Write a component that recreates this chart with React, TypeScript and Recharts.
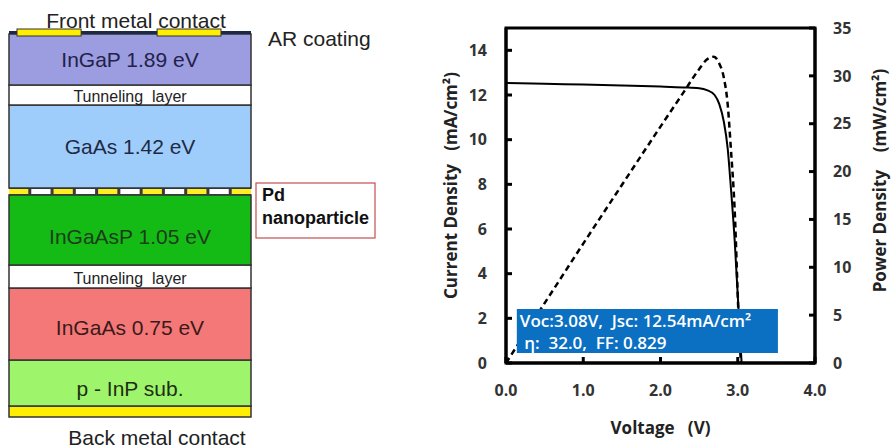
import React from 'react';
import { BarChart, Bar, XAxis, YAxis, ComposedChart, Line, ReferenceArea } from 'recharts';

// ---------- Layer stack (top to bottom) ----------
const layerKeys = ['ar', 'ingap', 'tun1', 'gaas', 'pd', 'ingaasp', 'tun2', 'ingaas', 'inp', 'back'];
const layerLabels = ['', 'InGaP 1.89 eV', 'Tunneling  layer', 'GaAs 1.42 eV', '', 'InGaAsP 1.05 eV', 'Tunneling  layer', 'InGaAs 0.75 eV', 'p - InP sub.', ''];
const layerThickness = [3, 51, 20, 83, 7, 70, 23, 72, 46, 11];

// ---------- J-V data ----------
const jvVoltage = [0, 0.5, 1.0, 1.5, 2.0, 2.3, 2.5, 2.6, 2.7, 2.76, 2.82, 2.87, 2.91, 2.96, 3.01, 3.05];
const jvCurrent = [12.54, 12.5, 12.47, 12.43, 12.38, 12.34, 12.3, 12.22, 12.0, 11.6, 10.8, 9.6, 7.9, 5.5, 2.4, 0];
const pvVoltage = [0, 0.5, 1.0, 1.5, 2.0, 2.3, 2.5, 2.6, 2.69, 2.76, 2.82, 2.87, 2.91, 2.96, 3.01, 3.04];
const pvPower = [0, 6.25, 12.47, 18.6, 24.7, 28.3, 30.7, 31.7, 32.0, 31.3, 29.8, 27.0, 22.5, 16.0, 5.0, 0];

const xTicks = [0, 1, 2, 3, 4];
const leftTicks = [0, 2, 4, 6, 8, 10, 12, 14];
const rightTicks = [0, 5, 10, 15, 20, 25, 30, 35];

const NB = '\u00a0';
const statsLine1 = `Voc:3.08V,${NB}${NB}Jsc:${NB}12.54mA/cm²`;
const statsLine2 = `${NB}η:${NB}${NB}32.0,${NB}${NB}FF:${NB}0.829`;
const leftAxisTitle = `Current${NB}Density${NB}${NB}${NB}(mA/cm²)`;
const rightAxisTitle = `Power${NB}Density${NB}${NB}${NB}${NB}(mW/cm²)`;
const xAxisTitle = `Voltage${NB}${NB}${NB}(V)`;

// ---------- built tables ----------
const stackRow: any = { name: 'cell' };
layerKeys.forEach((k, i) => { stackRow[k] = layerThickness[i]; });
const stackData = [stackRow];
const stackTotal = layerThickness.reduce((a, b) => a + b, 0);
const jvData = jvVoltage.map((v, i) => ({ v, j: jvCurrent[i] }));
const pvData = pvVoltage.map((v, i) => ({ v, p: pvPower[i] }));

// ---------- styles ----------
const diagFont = '"Liberation Sans", Arial, sans-serif';
const chartFont = '"Open Sans", Lato, sans-serif';
const layerStyle: Record<string, any> = {
  ar: { fill: '#1c2945' },
  ingap: { fill: '#9c9ce0', color: '#22224a', fs: 21, dy: 0 },
  tun1: { fill: '#ffffff', color: '#222', fs: 16, dy: 1 },
  gaas: { fill: '#9fcdfb', color: '#1e2a44', fs: 21, dy: 0 },
  pd: { fill: '#ffee22' },
  ingaasp: { fill: '#14bb14', color: '#1c3d1c', fs: 21, dy: 6 },
  tun2: { fill: '#ffffff', color: '#222', fs: 16, dy: 2 },
  ingaas: { fill: '#f57878', color: '#3a1a1a', fs: 21, dy: 3 },
  inp: { fill: '#9ef56b', color: '#1e2e14', fs: 21, dy: 5 },
  back: { fill: '#ffee00' },
};
const contactSpans = [[0.033, 0.298], [0.612, 0.876]];
const pdSegments = 11;

const makeLayerShape = (key: string, label: string) => (p: any) => {
  const st = layerStyle[key];
  const x = p.x, w = p.width;
  const y = Math.min(p.y, p.y + p.height), h = Math.abs(p.height);
  if (key === 'ar') {
    return (
      <g>
        <rect x={x} y={y} width={w} height={h} fill={st.fill} />
        {contactSpans.map(([a, b], i) => (
          <rect key={i} x={x + a * w} y={y - 2} width={(b - a) * w} height={h + 4} fill="#ffee00" stroke="#333" strokeWidth={1} />
        ))}
      </g>
    );
  }
  if (key === 'pd') {
    const gap = 3;
    const sw = (w - gap * (pdSegments - 1)) / pdSegments;
    return (
      <g>
        <rect x={x} y={y} width={w} height={h} fill="#3a3a3a" />
        {Array.from({ length: pdSegments }).map((_, i) => (
          <rect key={i} x={x + i * (sw + gap)} y={y + 1} width={sw} height={h - 2} fill={i % 2 === 0 ? '#ffee22' : '#ffffff'} />
        ))}
      </g>
    );
  }
  return (
    <g>
      <rect x={x} y={y} width={w} height={h} fill={st.fill} stroke="#333" strokeWidth={1.5} />
      {label ? (
        <text x={x + w / 2} y={y + h / 2 + (st.dy || 0)} textAnchor="middle" dominantBaseline="central"
          fontFamily={diagFont} fontSize={st.fs} fill={st.color} style={{ whiteSpace: 'pre' }}>{label}</text>
      ) : null}
    </g>
  );
};

const tickStyle = { fill: '#333', fontSize: 16, fontWeight: 700, fontFamily: chartFont };
const axisLineStyle = { stroke: '#000', strokeWidth: 3 };

const vLabel = (text: string, dx: number, dy: number) => (p: any) => {
  const vb = p.viewBox || p;
  const cx = vb.x + dx;
  const cy = vb.y + vb.height / 2 + dy;
  return (
    <text x={cx} y={cy} transform={`rotate(-90 ${cx} ${cy})`} textAnchor="middle" dominantBaseline="central"
      fontFamily={chartFont} fontWeight={700} fontSize={17} fill="#222">{text}</text>
  );
};

const xLabel = (p: any) => {
  const vb = p.viewBox || p;
  return (
    <text x={vb.x + vb.width / 2} y={vb.y + 64} textAnchor="middle" dominantBaseline="central"
      fontFamily={chartFont} fontWeight={700} fontSize={17} fill="#222">{xAxisTitle}</text>
  );
};

const statsLabel = (p: any) => {
  const vb = p.viewBox || p;
  const x = Math.min(vb.x, vb.x + vb.width);
  const y = Math.min(vb.y, vb.y + vb.height);
  return (
    <g fontFamily={chartFont} fontWeight={600} fontSize={17} fill="#ffffff">
      <text x={x + 3} y={y + 12} dominantBaseline="central">{statsLine1}</text>
      <text x={x + 3} y={y + 34} dominantBaseline="central">{statsLine2}</text>
    </g>
  );
};

export default function App() {
  const stackOrder = layerKeys.map((k, i) => ({ k, label: layerLabels[i] })).reverse();
  return (
    <div style={{ position: 'absolute', left: 0, top: 0, width: 891, height: 448, background: '#fff', overflow: 'hidden' }}>
      <div style={{ position: 'absolute', left: 0, top: 0 }}>
        <BarChart width={260} height={448} data={stackData} margin={{ top: 31, right: 9, bottom: 31, left: 9 }}
          barCategoryGap={0} barGap={0}>
          <XAxis dataKey="name" hide />
          <YAxis hide domain={[0, stackTotal]} type="number" />
          {stackOrder.map(({ k, label }) => (
            <Bar key={k} dataKey={k} stackId="s" isAnimationActive={false} shape={makeLayerShape(k, label)} />
          ))}
        </BarChart>
      </div>

      <svg width={891} height={448} style={{ position: 'absolute', left: 0, top: 0, pointerEvents: 'none' }}>
        <g fontFamily={diagFont} fill="#222" fontSize={21}>
          <text x={136} y={20} textAnchor="middle" dominantBaseline="central">Front metal contact</text>
          <text x={268} y={38} dominantBaseline="central">AR coating</text>
          <text x={157} y={437} textAnchor="middle" dominantBaseline="central">Back metal contact</text>
        </g>
        <rect x={256} y={183} width={119} height={55} fill="#fff" stroke="#c0504d" strokeWidth={1.2} />
        <g fontFamily={diagFont} fontWeight={700} fontSize={18} fill="#111">
          <text x={262} y={195} dominantBaseline="central">Pd</text>
          <text x={262} y={218} dominantBaseline="central">nanoparticle</text>
        </g>
      </svg>

      <div style={{ position: 'absolute', left: 420, top: 0 }}>
        <ComposedChart width={471} height={448} margin={{ top: 28, right: 0, bottom: 0, left: 0 }}>
          <XAxis type="number" dataKey="v" domain={[0, 4]} ticks={xTicks} allowDataOverflow
            tickFormatter={(v: number) => v.toFixed(1)} height={85} tickSize={-6} tickMargin={28}
            axisLine={axisLineStyle} tickLine={axisLineStyle} tick={tickStyle} label={xLabel} />
          <YAxis yAxisId="j" type="number" domain={[0, 15]} ticks={leftTicks} width={86} tickSize={-6} tickMargin={25}
            axisLine={axisLineStyle} tickLine={axisLineStyle} tick={tickStyle}
            label={vLabel(leftAxisTitle, 30, -10)} />
          <YAxis yAxisId="p" orientation="right" type="number" domain={[0, 35]} ticks={rightTicks} width={76} tickSize={-6} tickMargin={24}
            axisLine={axisLineStyle} tickLine={axisLineStyle} tick={tickStyle}
            label={vLabel(rightAxisTitle, 64, -15)} />
          <Line yAxisId="j" data={jvData} dataKey="j" type="monotone" stroke="#000" strokeWidth={2} dot={false} isAnimationActive={false} />
          <Line yAxisId="p" data={pvData} dataKey="p" type="monotone" stroke="#000" strokeWidth={2.5} strokeDasharray="6 4" dot={false} isAnimationActive={false} />
          <ReferenceArea yAxisId="j" x1={0} x2={4} y1={0} y2={15} fill="none" stroke="#000" strokeWidth={3} />
          <ReferenceArea yAxisId="j" x1={0.14} x2={3.52} y1={0.45} y2={2.42} fill="#0b6fc2" fillOpacity={1}
            label={statsLabel} {...({ zIndex: 1000 } as any)} />
        </ComposedChart>
      </div>
    </div>
  );
}
